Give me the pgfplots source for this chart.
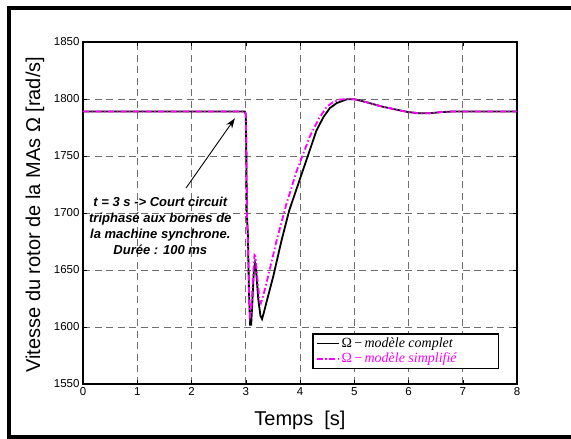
\documentclass[border=0pt]{standalone}
\usepackage{pgfplots}
\pgfplotsset{compat=1.18}
\usepackage{fontspec}
\setmainfont{Liberation Sans}
\newfontfamily\seriffont{Liberation Serif}
\usetikzlibrary{arrows.meta}
\definecolor{mag}{RGB}{255,0,255}
\definecolor{gridgray}{RGB}{110,110,110}
\pgfplotstableread{
t v
0 1789
2.98 1789
3.00 1787
3.01 1760
3.02 1700
3.04 1680
3.06 1630
3.08 1602
3.10 1602
3.12 1620
3.15 1650
3.17 1656
3.19 1650
3.23 1625
3.27 1610
3.30 1607
3.33 1612
3.40 1625
3.51 1645
3.66 1676
3.80 1702
4.00 1730
4.18 1755
4.30 1772
4.43 1784
4.55 1792
4.68 1796.5
4.86 1799.7
5.00 1799.8
5.20 1797.5
5.50 1793.5
5.84 1790
6.00 1788.5
6.20 1787.5
6.40 1787.5
6.60 1788.5
6.80 1789
8 1789
}\complet
\pgfplotstableread{
t v
0 1789
2.98 1789
3.00 1787
3.01 1760
3.02 1700
3.04 1675
3.06 1630
3.08 1609
3.10 1612
3.13 1640
3.16 1663
3.18 1662
3.21 1645
3.25 1625
3.28 1621
3.32 1627
3.40 1642
3.57 1676
3.75 1708
3.94 1737
4.18 1767
4.35 1783
4.49 1793
4.60 1797
4.73 1799.5
4.90 1800
5.00 1799.8
5.20 1797.5
5.50 1793.5
5.84 1790
6.00 1788.5
6.20 1787.5
6.40 1787.5
6.60 1788.5
6.80 1789
8 1789
}\simplifie
\begin{document}
\begin{tikzpicture}
\useasboundingbox (0,0) rectangle (571bp,439bp);
\draw[line width=4bp] (8.5bp,1.5bp) rectangle (600bp,430.5bp);
\begin{axis}[
  at={(83bp,55bp)}, anchor=south west,
  scale only axis, width=434bp, height=342bp,
  xmin=0, xmax=8, ymin=1550, ymax=1850,
  xtick={0,1,...,8}, ytick={1550,1600,...,1850},
  /pgf/number format/assume math mode=true,
  /pgf/number format/1000 sep={},
  tick label style={font=\fontsize{11.5bp}{13bp}\selectfont},
  tick align=inside, major tick length=4bp,
  every tick/.style={black},
  axis line style={line width=1.3bp},
  grid=major,
  major grid style={gridgray, line width=0.9bp, dash pattern=on 7bp off 4.5bp},
  xlabel={Temps\ \ [s]},
  ylabel={Vitesse du rotor de la MAs Ω [rad/s]},
  label style={font=\fontsize{20bp}{24bp}\selectfont},
  xlabel style={at={(axis description cs:0.5,-0.1053)}, anchor=center},
  ylabel style={at={(axis description cs:-0.1106,0.495)}, anchor=center},
  legend style={at={(0.5276,0.149)}, anchor=north west, draw=black,
    line width=1.6bp, fill=white, inner xsep=3bp, inner ysep=2.5bp,
    font=\seriffont\fontsize{14bp}{16bp}\selectfont,
    nodes={inner ysep=1.5bp}, row sep=1bp},
  legend cell align=left,
  legend image code/.code={\draw[line width=1.8bp,#1] (0bp,0bp) -- (22bp,0bp);},
]
\addplot[black, line width=1.8bp] table[x=t,y=v] {\complet};
\addlegendentry{\makebox[152bp][l]{Ω\,−\,\itshape modèle complet}}
\addplot[mag, line width=1.8bp, dash pattern=on 6bp off 2.5bp on 1.5bp off 2.5bp] table[x=t,y=v] {\simplifie};
\addlegendentry{\makebox[152bp][l]{\color{mag}Ω\,−\,\itshape modèle simplifié}}
\node[align=center, font=\bfseries\itshape\fontsize{13bp}{16bp}\selectfont] at (axis cs:1.425,1689)
  {t = 3 s -> Court circuit\\ triphasé aux bornes de\\ la machine synchrone.\\ Durée : 100 ms};
\draw[-{Stealth[length=10bp,width=7bp]}, line width=0.9bp] (axis cs:1.90,1722) -- (axis cs:2.80,1783);
\end{axis}
\end{tikzpicture}
\end{document}
